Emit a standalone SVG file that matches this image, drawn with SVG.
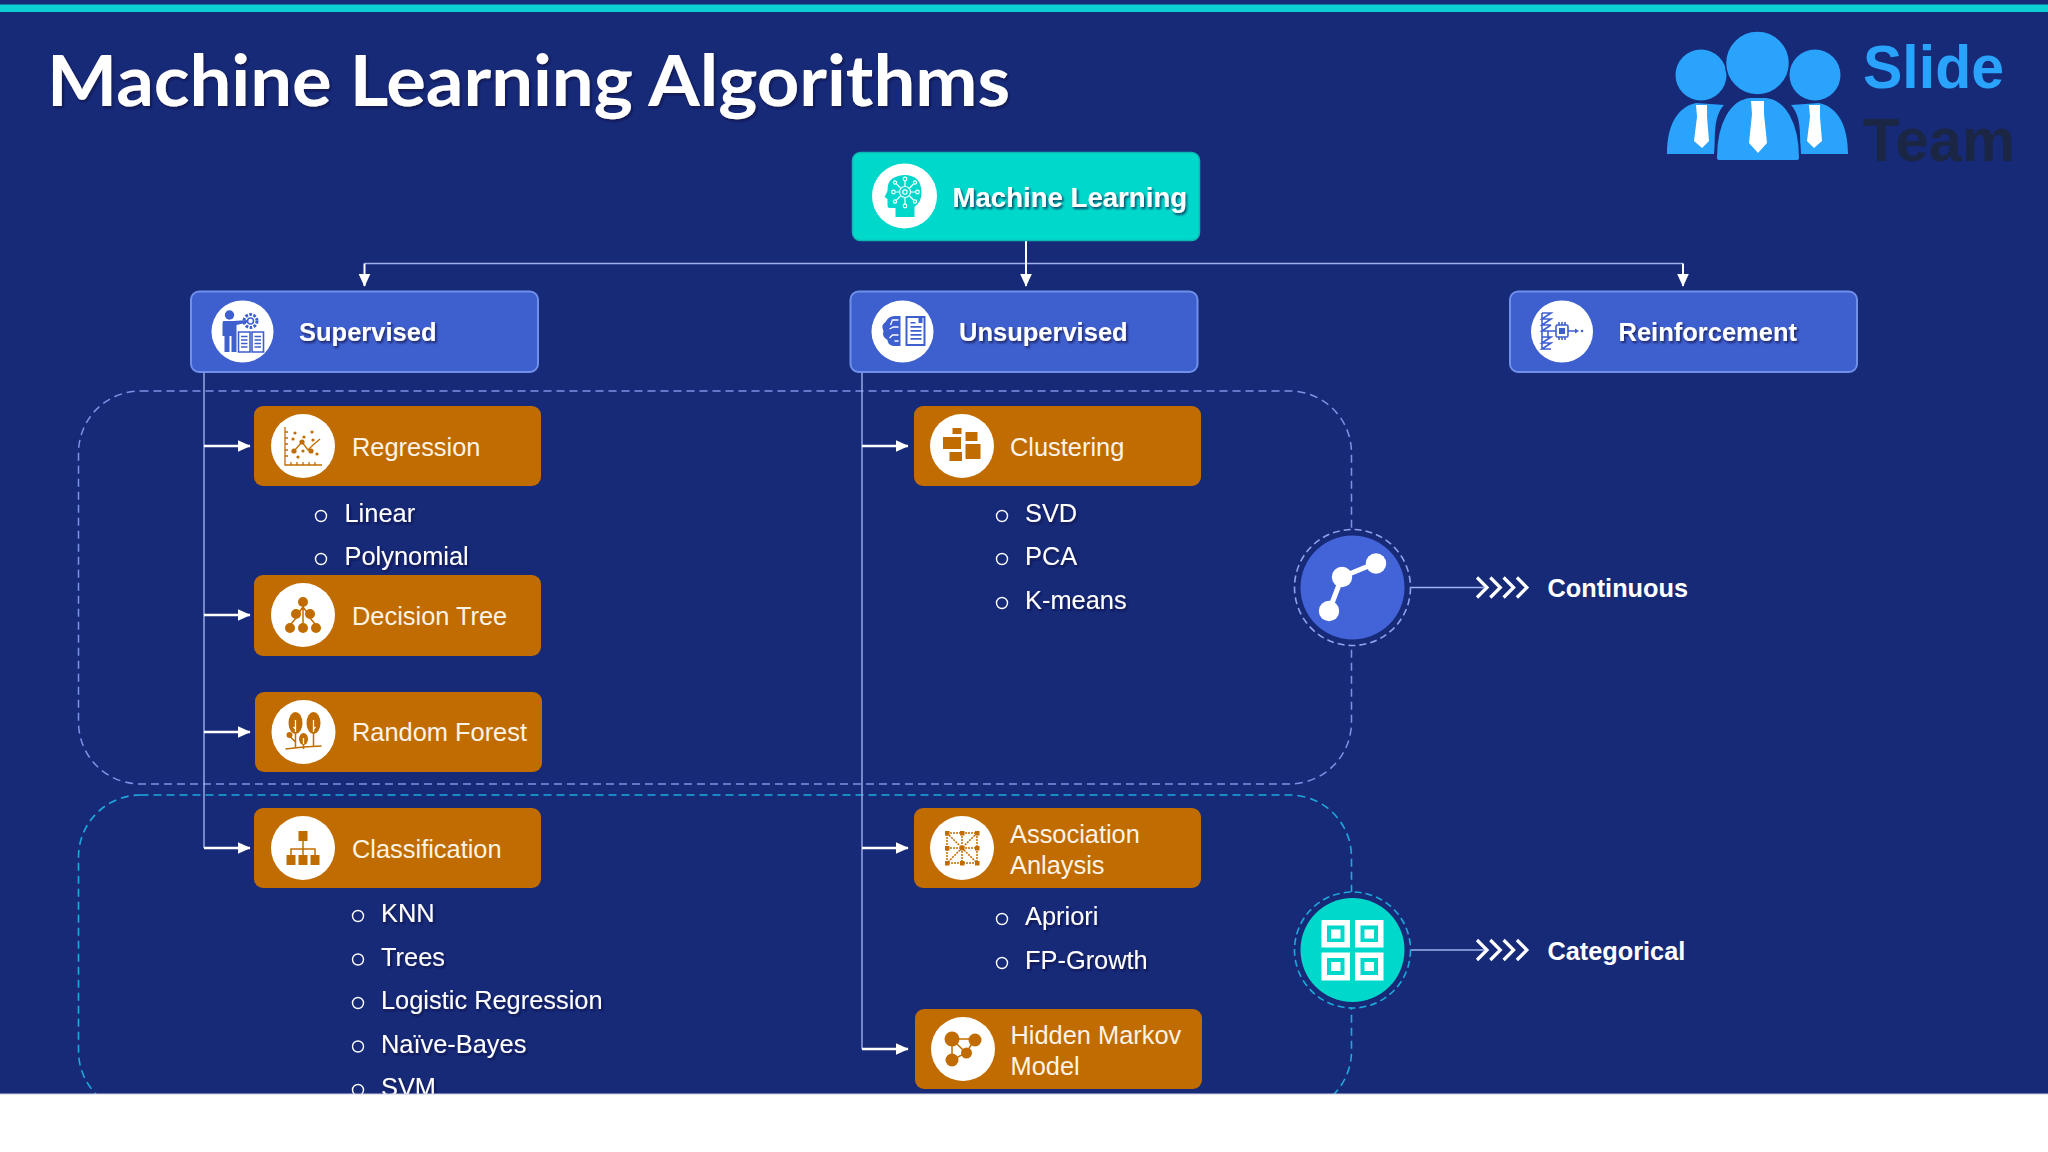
<svg xmlns="http://www.w3.org/2000/svg" width="2048" height="1152" viewBox="0 0 2048 1152">
<defs>
<filter id="sh" x="-5%" y="-20%" width="110%" height="140%"><feDropShadow dx="1.5" dy="2" stdDeviation="1.2" flood-color="#0a1540" flood-opacity="0.75"/></filter>
<marker id="ah" viewBox="0 0 10 10" refX="9.5" refY="5" markerUnits="userSpaceOnUse" markerWidth="13" markerHeight="13" orient="auto"><path d="M0 0.4L10 5L0 9.6Z" fill="#fff"/></marker>
<g id="chev"><path d="M0 -10L10 0L0 10M13.3 -10L23.3 0L13.3 10M26.6 -10L36.6 0L26.6 10M39.9 -10L49.9 0L39.9 10" fill="none" stroke="#fff" stroke-width="3.2"/></g>
</defs>
<style>
text{font-family:"Liberation Sans",Arial,sans-serif;fill:#fff}
.hd{font-size:25.5px;font-weight:bold;filter:url(#sh)}
.lb{font-size:25.4px;fill:#fbf3e6}
.it{font-size:25.4px;filter:url(#sh)}
.cat{font-size:25.3px;font-weight:bold}
.or{fill:#c06c00}
.bl{fill:#3e5fce;stroke:#7090ea;stroke-width:2}
.wc{fill:#fff}
.bu{fill:none;stroke:#fff;stroke-width:1.4}
.ic{fill:#c06c00}
.il{fill:none;stroke:#c06c00;stroke-width:1.5}
.bi{fill:#3e5fce}
.bs{fill:none;stroke:#3e5fce;stroke-width:1.6}
.conn{fill:none;stroke:#9fb0ea;stroke-width:1.4}
.arr{fill:none;stroke:#fff;stroke-width:2.6;marker-end:url(#ah)}
</style>
<rect width="2048" height="1152" fill="#172a78"/>
<rect y="4.500" width="2048" height="7.500" fill="#0cd0d2"/>
<text x="47" y="106" style="font-family:Lato,sans-serif;font-size:71px;font-weight:700;filter:url(#sh)" textLength="963" lengthAdjust="spacingAndGlyphs">Machine Learning Algorithms</text>

<g id="logo">
<g fill="#29a3fb">
<circle cx="1701" cy="75" r="25.500"/><circle cx="1815" cy="75" r="25.500"/>
<path d="M1667 154C1667 124 1678 107 1696 103L1724 105C1712 118 1716 140 1714 154Z"/>
<path d="M1848 154C1848 124 1837 107 1819 103L1791 105C1803 118 1799 140 1801 154Z"/>
<path d="M1716 158C1716 122 1730 99 1750 97H1766C1786 99 1800 122 1800 158Q1800 161 1796 161H1720Q1716 161 1716 158Z" stroke="#172a78" stroke-width="2"/>
<circle cx="1757.500" cy="63" r="32" stroke="#172a78" stroke-width="1.500"/>
</g>
<g fill="#fff">
<path d="M1751 101H1764V114L1767 143L1758 153L1749 143L1752 114Z"/>
<path d="M1696 105H1707V117L1709 141L1702 148L1694 141L1697 117Z"/>
<path d="M1809 105H1820V117L1822 141L1814 148L1807 141L1810 117Z"/>
</g>
<text x="1863" y="88" style="font-size:62px;font-weight:700;fill:#29a3fb" textLength="141" lengthAdjust="spacingAndGlyphs">Slide</text>
<text x="1863" y="160.500" style="font-size:62px;font-weight:700;fill:#1a2644" textLength="152" lengthAdjust="spacingAndGlyphs">Team</text>
</g>

<g id="regions">
<rect x="78.500" y="391" width="1273" height="393" rx="62" ry="62" fill="none" stroke="#7d92e6" stroke-width="1.500" stroke-dasharray="8 5"/>
<rect x="78.500" y="795" width="1273" height="318" rx="62" ry="62" fill="none" stroke="#1ea9dc" stroke-width="1.600" stroke-dasharray="8 5"/>
</g>

<g id="connectors">
<path class="conn" d="M364.500 263.500H1683"/>
<path class="conn" d="M204 372V848M862 372V1049"/>
<path class="arr" d="M364.500 263.500V286" style="stroke-width:2"/>
<path class="arr" d="M1026 240V286" style="stroke-width:2"/>
<path class="arr" d="M1683 263.500V286" style="stroke-width:2"/>
<path class="arr" d="M204 446H250"/><path class="arr" d="M204 615H250"/><path class="arr" d="M204 732H250"/><path class="arr" d="M204 848H250"/>
<path class="arr" d="M862 446H908"/><path class="arr" d="M862 848H908"/><path class="arr" d="M862 1049H908"/>
<path class="conn" d="M1411 587.500H1484M1411 950H1484"/>
<use href="#chev" x="1477" y="587.500"/>
<use href="#chev" x="1477" y="950"/>
</g>

<g id="n-ml">
<rect x="852.500" y="152.500" width="347" height="88" rx="8" fill="#00d8cc" stroke="#0eb8b2" stroke-width="1.500"/>
<circle class="wc" cx="904.500" cy="196" r="32.500"/>
<g transform="translate(904.500 196)">
<path d="M-9 21V12H-15Q-17 12 -17 9V3L-20 1L-17 -5Q-18 -20 0 -21Q17 -21 17 -3Q17 6 10 11V21Z" fill="#00d8cc"/>
<g fill="none" stroke="#fff" stroke-width="1.200"><circle cx="0.500" cy="-4" r="5.500"/><circle cx="0.500" cy="-4" r="2.200"/><path d="M0.500 -10V-15M0.500 2V8M-5 -4H-9M6 -4H11M-4 -8L-8 -12M5 -8L9 -12M-4 0L-8 4M5 0L9 4"/><circle cx="0.500" cy="-17" r="1.800"/><circle cx="0.500" cy="10" r="1.800"/><circle cx="-11" cy="-4" r="1.800"/><circle cx="13" cy="-4" r="1.800"/><circle cx="-9.500" cy="-13.500" r="1.600"/><circle cx="10.500" cy="-13.500" r="1.600"/><circle cx="-9.500" cy="5.500" r="1.600"/><circle cx="10.500" cy="5.500" r="1.600"/></g>
</g>
<text x="952.500" y="206.500" class="hd" style="font-size:27.600px">Machine Learning</text>
</g>

<g id="n-supervised">
<rect class="bl" x="191" y="291.500" width="347" height="80.500" rx="8"/>
<circle class="wc" cx="242.500" cy="331.500" r="31"/>
<g transform="translate(242.500 332)">
<circle class="bi" cx="-13" cy="-17" r="4.700"/>
<path class="bi" d="M-19 -11H-9L5 -12V-9.500L-6 -7V20H-11V4H-13V20H-18V4H-20V-8Q-20 -11 -19 -11Z"/>
<circle class="bs" cx="8" cy="-11" r="6.500" style="stroke-width:3" stroke-dasharray="2.600 1.500"/><circle class="bs" cx="8" cy="-11" r="3"/>
<path class="bs" d="M-4 0H7.500V20H-4ZM9.500 0H21V20H9.500ZM-1.500 4.500H5M-1.500 8H5M-1.500 11.500H5M-1.500 15H5M12 4.500H18.500M12 8H18.500M12 11.500H18.500M12 15H18.500"/>
</g>
<text x="299" y="341" class="hd">Supervised</text>
</g>

<g id="n-unsupervised">
<rect class="bl" x="850.500" y="291.500" width="347" height="80.500" rx="8"/>
<circle class="wc" cx="902.500" cy="331.500" r="31"/>
<g transform="translate(902.500 332)">
<path class="bi" d="M-2 -16V14H-9Q-15 13 -15 8Q-21 5 -19 -1Q-22 -7 -17 -10Q-14 -16 -8 -16Z"/>
<path d="M-4 -12H-10L-12 -7M-4 -5H-9L-13 -3M-4 3H-10L-13 6M-4 9H-8" fill="none" stroke="#fff" stroke-width="1.300"/>
<path class="bi" d="M3 -16H23V14H3Z"/>
<path d="M5 -14H21V12H5Z" fill="#fff"/>
<path class="bi" d="M8 -6H19V-4.300H8ZM8 -2H19V-0.300H8ZM8 2H19V3.700H8ZM8 6H19V7.700H8ZM8 -10H13V-8.500H8ZM16 -14H20V-9H16Z"/>
</g>
<text x="959" y="341" class="hd">Unsupervised</text>
</g>

<g id="n-reinforcement">
<rect class="bl" x="1510" y="291.500" width="347" height="80.500" rx="8"/>
<circle class="wc" cx="1562" cy="331.500" r="31"/>
<g transform="translate(1562 332)">
<path class="bs" d="M-20 -19H-11L-20 -13H-11L-20 -7H-11M-20 -19V17M-20 5H-11L-20 11H-11L-20 17H-11M-11 -7L-20 -1H-6M-20 -1V5M-14 -1V6"/>
<rect class="bs" x="-6" y="-7" width="12" height="12" rx="1.500"/>
<rect class="bi" x="-3" y="-4" width="6" height="6"/>
<path class="bs" d="M6 -1H13M-3 -10V-7M0 -10V-7M3 -10V-7M-3 5V8M0 5V8M3 5V8"/>
<path class="bi" d="M13 -3.500L17 -1L13 1.500Z"/><circle class="bi" cx="20" cy="-1" r="1.300"/>
</g>
<text x="1618.500" y="341" class="hd">Reinforcement</text>
</g>

<g id="n-regression">
<rect class="or" x="254" y="406" width="287" height="80" rx="9"/>
<circle class="wc" cx="303" cy="446" r="32"/>
<g transform="translate(303 446)">
<path class="il" d="M-18 -19V19H19M-18 -14H-15M-18 -8H-15M-18 -2H-15M-18 4H-15M-18 10H-15M-12 16V19M-6 16V19M0 16V19M6 16V19M12 16V19M-9 5L-1 -4L5 4L10 -1L17 -7" style="stroke-width:1.300"/>
<g class="ic"><circle cx="-9" cy="5" r="2.600"/><circle cx="-1" cy="-4" r="2.600"/><circle cx="8" cy="5" r="2.600"/><circle cx="-8" cy="-13" r="1.600"/><circle cx="-10" cy="-7" r="1.600"/><circle cx="1" cy="-9" r="1.600"/><circle cx="9" cy="-14" r="1.600"/><circle cx="10" cy="-6" r="1.600"/><circle cx="0" cy="5" r="1.600"/><circle cx="-5" cy="11" r="1.600"/><circle cx="14" cy="8" r="1.600"/></g>
</g>
<text x="352" y="455.500" class="lb">Regression</text>
</g>
<g id="list-regression">
<circle class="bu" cx="321" cy="516" r="5.500"/><text x="344.500" y="522" class="it">Linear</text>
<circle class="bu" cx="321" cy="559" r="5.500"/><text x="344.500" y="565" class="it">Polynomial</text>
</g>

<g id="n-decision-tree">
<rect class="or" x="254" y="575" width="287" height="81" rx="9"/>
<circle class="wc" cx="303" cy="615" r="32"/>
<g transform="translate(303 615)">
<path class="il" d="M0 -12V16M-6 0L0 -8L6 0M-12 9L-7 3M12 9L7 3"/>
<g class="ic"><circle cx="0" cy="-13" r="5"/><circle cx="-7" cy="-1" r="5"/><circle cx="7" cy="-1" r="5"/><circle cx="-13" cy="13" r="5"/><circle cx="0" cy="13" r="5"/><circle cx="13" cy="13" r="5"/></g>
</g>
<text x="352" y="625" class="lb">Decision Tree</text>
</g>

<g id="n-random-forest">
<rect class="or" x="255" y="692" width="287" height="80" rx="9"/>
<circle class="wc" cx="303.500" cy="732" r="32"/>
<g transform="translate(303.500 732)">
<g class="ic"><ellipse cx="-8" cy="-9" rx="7" ry="11"/><ellipse cx="10" cy="-9" rx="7" ry="11"/><ellipse cx="0" cy="7" rx="4.500" ry="6"/><circle cx="-14" cy="3" r="3"/></g>
<path d="M-8 -12V0M10 -12V0M-10 -5L-8 -3M12 -5L10 -3M0 6V12" stroke="#fff" stroke-width="1.300" fill="none"/>
<path class="il" d="M-8 0V16M10 0V14M0 12V17M-18 17L0 15L18 14M-13 5L-8 10"/>
</g>
<text x="352" y="741" class="lb">Random Forest</text>
</g>

<g id="n-classification">
<rect class="or" x="254" y="808" width="287" height="80" rx="9"/>
<circle class="wc" cx="303" cy="848" r="32"/>
<g transform="translate(303 848)">
<rect class="ic" x="-4.500" y="-17" width="9" height="10"/>
<path class="il" d="M0 -7V7M-12 7V1H12V7"/>
<rect class="ic" x="-16.500" y="7" width="9" height="10"/><rect class="ic" x="-4.500" y="7" width="9" height="10"/><rect class="ic" x="7.500" y="7" width="9" height="10"/>
</g>
<text x="352" y="858" class="lb">Classification</text>
</g>
<g id="list-classification">
<circle class="bu" cx="358" cy="916" r="5.500"/><text x="381" y="922" class="it">KNN</text>
<circle class="bu" cx="358" cy="959.500" r="5.500"/><text x="381" y="965.500" class="it">Trees</text>
<circle class="bu" cx="358" cy="1003" r="5.500"/><text x="381" y="1009" class="it">Logistic Regression</text>
<circle class="bu" cx="358" cy="1046.500" r="5.500"/><text x="381" y="1052.500" class="it">Naïve-Bayes</text>
<circle class="bu" cx="358" cy="1090" r="5.500"/><text x="381" y="1096" class="it">SVM</text>
</g>

<g id="n-clustering">
<rect class="or" x="914" y="406" width="287" height="80" rx="9"/>
<circle class="wc" cx="962" cy="446" r="32"/>
<g transform="translate(962 446)" class="ic">
<rect x="-9.500" y="-18" width="9" height="6"/><rect x="3.500" y="-14" width="12" height="9"/><rect x="-19" y="-9" width="18" height="12"/><rect x="3.500" y="-2" width="15" height="15"/><rect x="-12.500" y="6" width="12.500" height="9"/>
</g>
<text x="1010" y="455.500" class="lb">Clustering</text>
</g>
<g id="list-clustering">
<circle class="bu" cx="1002" cy="516" r="5.500"/><text x="1025" y="522" class="it">SVD</text>
<circle class="bu" cx="1002" cy="559" r="5.500"/><text x="1025" y="565" class="it">PCA</text>
<circle class="bu" cx="1002" cy="603" r="5.500"/><text x="1025" y="608.500" class="it">K-means</text>
</g>

<g id="n-association">
<rect class="or" x="914" y="808" width="287" height="80" rx="9"/>
<circle class="wc" cx="962" cy="848" r="32"/>
<g transform="translate(962 848)">
<path class="il" stroke-dasharray="2 1" d="M-15 -15H15V15H-15ZM-15 -15L15 15M15 -15L-15 15M0 -15V15M-15 0H15"/>
<g class="ic"><rect x="-17" y="-17" width="4.500" height="4.500"/><rect x="-2" y="-17" width="4.500" height="4.500"/><rect x="13" y="-17" width="4.500" height="4.500"/><rect x="-17" y="-2" width="4.500" height="4.500"/><rect x="-2" y="-2" width="4.500" height="4.500"/><rect x="13" y="-2" width="4.500" height="4.500"/><rect x="-17" y="13" width="4.500" height="4.500"/><rect x="-2" y="13" width="4.500" height="4.500"/><rect x="13" y="13" width="4.500" height="4.500"/></g>
</g>
<text x="1010" y="842.500" class="lb">Association</text>
<text x="1010" y="873.500" class="lb">Anlaysis</text>
</g>
<g id="list-association">
<circle class="bu" cx="1002" cy="919" r="5.500"/><text x="1025" y="925" class="it">Apriori</text>
<circle class="bu" cx="1002" cy="963" r="5.500"/><text x="1025" y="969" class="it">FP-Growth</text>
</g>

<g id="n-hmm">
<rect class="or" x="915" y="1009" width="287" height="80" rx="9"/>
<circle class="wc" cx="963" cy="1049" r="32"/>
<g transform="translate(963 1049)">
<path class="il" d="M-11 -10H12M-11 -10L-11 11L3 4L12 -10M-11 -10L3 4"/>
<g class="ic"><circle cx="-11" cy="-10" r="7.500"/><circle cx="12" cy="-9" r="6.500"/><circle cx="3.500" cy="4" r="5.500"/><circle cx="-11" cy="11" r="6.500"/></g>
</g>
<text x="1010.500" y="1044" class="lb">Hidden Markov</text>
<text x="1010.500" y="1074.500" class="lb">Model</text>
</g>

<g id="n-continuous">
<circle cx="1352.500" cy="587.500" r="58" fill="#172a78" stroke="#8fa2ea" stroke-width="1.600" stroke-dasharray="7 4"/>
<circle cx="1352.500" cy="587.500" r="52" fill="#4264d8"/>
<path d="M1376 563L1342 577L1329 611" fill="none" stroke="#fff" stroke-width="5"/>
<circle class="wc" cx="1376" cy="563.500" r="10.200"/><circle class="wc" cx="1342" cy="577" r="10.200"/><circle class="wc" cx="1329" cy="611" r="10.200"/>
<text x="1547.500" y="597" class="cat">Continuous</text>
</g>

<g id="n-categorical">
<circle cx="1352.500" cy="950" r="58" fill="#172a78" stroke="#1ea9dc" stroke-width="1.600" stroke-dasharray="7 4"/>
<circle cx="1352.500" cy="950" r="52" fill="#00d8cc"/>
<g fill="#fff" stroke="none">
<path fill-rule="evenodd" d="M1321.500 920H1350V947.500H1321.500ZM1327 925.500V942H1344.500V925.500Z"/>
<path fill-rule="evenodd" d="M1355 920H1383.500V947.500H1355ZM1360.500 925.500V942H1378V925.500Z"/>
<path fill-rule="evenodd" d="M1321.500 952.500H1350V980.500H1321.500ZM1327 958V975H1344.500V958Z"/>
<path fill-rule="evenodd" d="M1355 952.500H1383.500V980.500H1355ZM1360.500 958V975H1378V958Z"/>
<rect x="1331" y="929.500" width="9.500" height="9"/><rect x="1364.500" y="929.500" width="9.500" height="9"/><rect x="1331" y="962" width="9.500" height="9"/><rect x="1364.500" y="962" width="9.500" height="9"/>
</g>
<text x="1547.500" y="959.500" class="cat">Categorical</text>
</g>

<rect y="1094" width="2048" height="58" fill="#fff"/>
<rect y="1093.500" width="2048" height="1" fill="#c9cde0"/>
</svg>
